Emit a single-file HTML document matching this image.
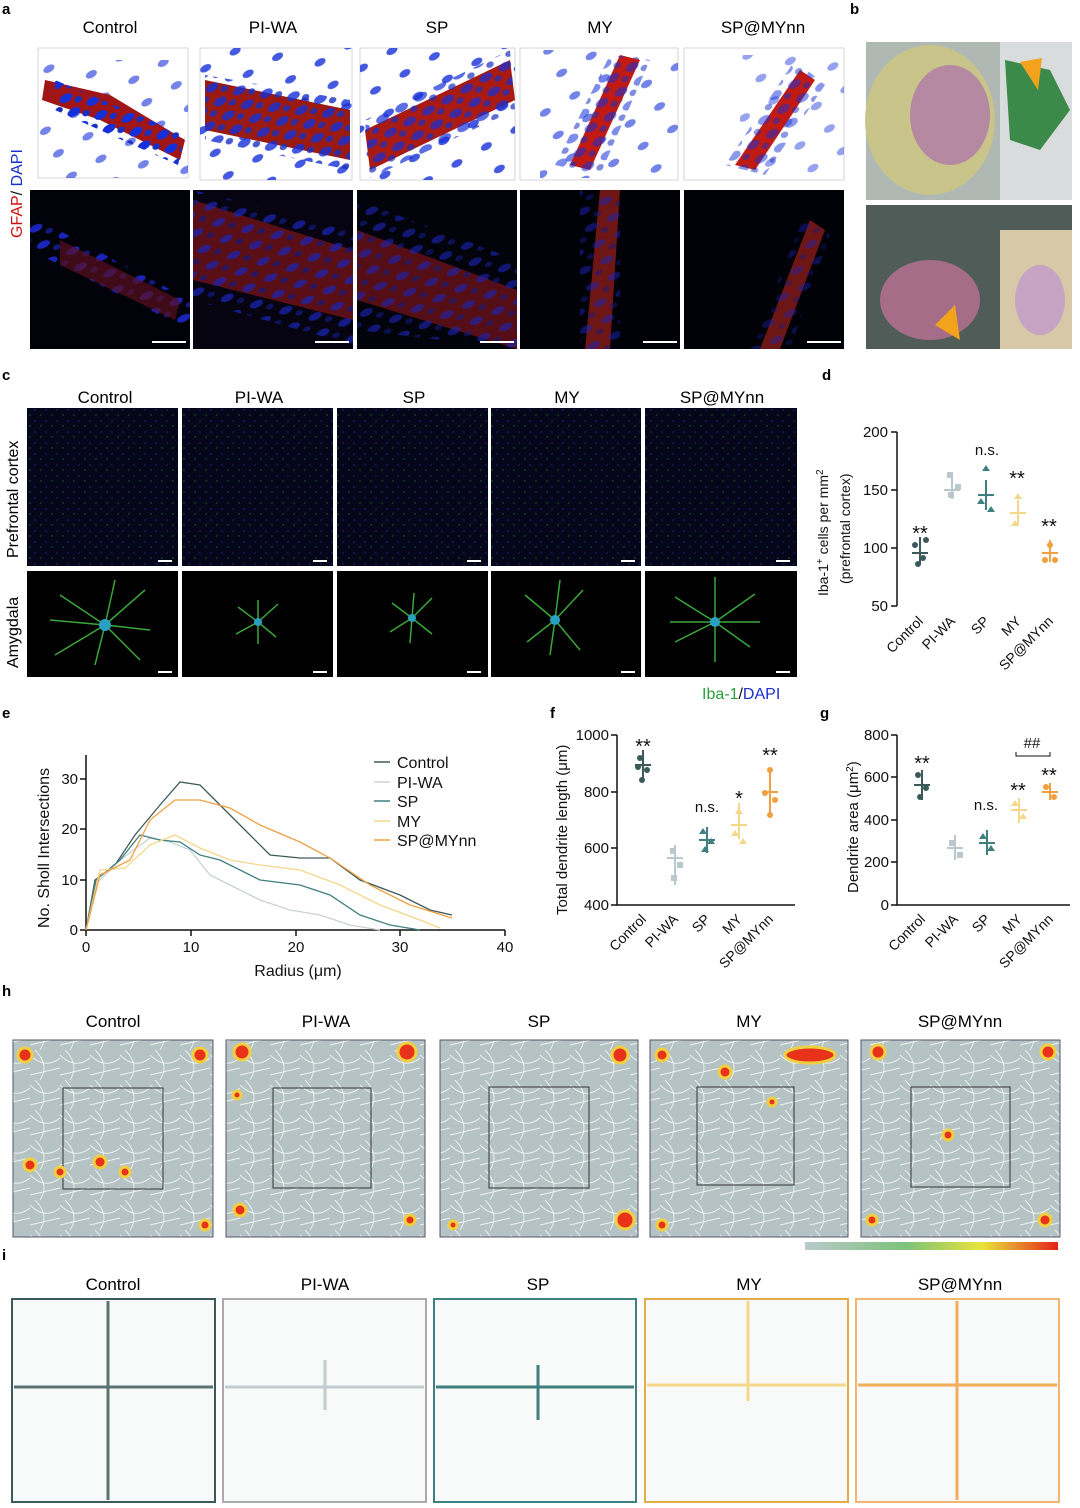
<!DOCTYPE html>
<html><head><meta charset="utf-8"><style>
html,body{margin:0;padding:0;background:#fff}
svg{display:block;font-family:"Liberation Sans",Arial,sans-serif}
</style></head><body>
<svg width="1080" height="1508" viewBox="0 0 1080 1508" xmlns="http://www.w3.org/2000/svg">
<defs>
<pattern id="nuc" width="22" height="16" patternUnits="userSpaceOnUse" patternTransform="rotate(-30)">
<ellipse cx="8" cy="6" rx="7" ry="4" fill="#1530d8"/><ellipse cx="18" cy="13" rx="4" ry="3" fill="#1a2fc0"/></pattern>
<pattern id="nucs" width="34" height="26" patternUnits="userSpaceOnUse" patternTransform="rotate(-30)">
<ellipse cx="8" cy="6" rx="6" ry="3.5" fill="#1530d8"/></pattern>
<pattern id="nucd" width="24" height="18" patternUnits="userSpaceOnUse" patternTransform="rotate(-25)">
<ellipse cx="8" cy="6" rx="7" ry="3.5" fill="#1a24b8"/><ellipse cx="19" cy="14" rx="4" ry="2.5" fill="#121a80"/></pattern>
<pattern id="spk" width="11" height="11" patternUnits="userSpaceOnUse">
<rect width="11" height="11" fill="#05061a"/><circle cx="2" cy="3" r="0.8" fill="#1e2680"/><circle cx="8" cy="8" r="0.7" fill="#1a6a30"/></pattern>
<pattern id="trk" width="30" height="30" patternUnits="userSpaceOnUse">
<rect width="30" height="30" fill="#b6c3c5"/><path d="M0 5 Q15 20 30 8 M5 0 Q20 15 10 30 M0 25 L30 18" stroke="#eef3f2" stroke-width="0.9" fill="none"/></pattern>
<linearGradient id="cb" x1="0" x2="1"><stop offset="0" stop-color="#b9c9cb"/><stop offset="0.4" stop-color="#7cc27a"/><stop offset="0.7" stop-color="#e9e43a"/><stop offset="1" stop-color="#e2231a"/></linearGradient>
</defs>

<g font-weight="bold" font-size="15">
<text x="2" y="14">a</text><text x="850" y="14">b</text><text x="2" y="380">c</text><text x="822" y="380">d</text>
<text x="2" y="718">e</text><text x="550" y="718">f</text><text x="820" y="718">g</text><text x="2" y="996">h</text><text x="2" y="1260">i</text></g>

<!-- a -->
<g font-size="17" text-anchor="middle"><text x="110" y="33">Control</text><text x="273" y="33">PI-WA</text><text x="437" y="33">SP</text><text x="600" y="33">MY</text><text x="763" y="33">SP@MYnn</text></g>
<text transform="translate(22,238) rotate(-90)" font-size="16"><tspan fill="#d01010">GFAP</tspan><tspan fill="#111">/ </tspan><tspan fill="#1a2fd0">DAPI</tspan></text>
<g stroke="#bbb" stroke-width="0.6" fill="#fff">
<rect x="38" y="48" width="150" height="130"/><rect x="200" y="48" width="152" height="132"/><rect x="360" y="48" width="155" height="132"/><rect x="520" y="48" width="158" height="132"/><rect x="684" y="48" width="160" height="132"/></g>
<g>
<path d="M38 60 L188 60 L188 178 L38 178Z" fill="url(#nucs)" opacity="0.6"/>
<path d="M45 80 L110 95 L185 140 L180 160 L100 120 L42 100Z" fill="#a01515"/><path d="M55 80 L185 135 L178 165 L55 110Z" fill="url(#nuc)"/>
<rect x="200" y="48" width="152" height="132" fill="url(#nucs)" opacity="0.8"/>
<path d="M205 80 L350 110 L350 160 L205 130Z" fill="#9a1a12"/><path d="M205 75 L350 100 L350 170 L205 140Z" fill="url(#nuc)" opacity="0.8"/>
<rect x="360" y="48" width="155" height="132" fill="url(#nucs)" opacity="0.8"/>
<path d="M365 130 L510 60 L515 100 L370 170Z" fill="#a81a12"/><path d="M365 120 L510 50 L515 110 L370 178Z" fill="url(#nuc)" opacity="0.7"/>
<rect x="540" y="50" width="138" height="128" fill="url(#nucs)" opacity="0.6"/>
<path d="M570 165 L620 55 L640 60 L590 170Z" fill="#c01a12"/><path d="M555 165 L610 55 L650 60 L600 175Z" fill="url(#nuc)" opacity="0.55"/>
<rect x="740" y="55" width="104" height="120" fill="url(#nucs)" opacity="0.45"/>
<path d="M735 165 L800 70 L815 80 L755 170Z" fill="#c01a12"/><path d="M725 165 L795 60 L825 85 L765 175Z" fill="url(#nuc)" opacity="0.5"/></g>
<g>
<rect x="30" y="190" width="160" height="159" fill="#02020a"/><rect x="193" y="190" width="160" height="159" fill="#050410"/><rect x="357" y="190" width="160" height="159" fill="#03030c"/><rect x="520" y="190" width="160" height="159" fill="#010108"/><rect x="684" y="190" width="160" height="159" fill="#010108"/>
<path d="M30 215 L190 300 L190 330 L30 250Z" fill="url(#nucd)"/><path d="M60 240 L180 300 L175 320 L60 265Z" fill="#5a1020" opacity="0.7"/>
<path d="M193 200 L353 250 L353 320 L193 280Z" fill="#6a1218" opacity="0.85"/><path d="M193 190 L353 230 L353 345 L193 300Z" fill="url(#nucd)" opacity="0.7"/>
<path d="M357 230 L517 290 L517 349 L357 300Z" fill="#6a1218" opacity="0.8"/><path d="M357 200 L517 260 L517 349 L357 330Z" fill="url(#nucd)" opacity="0.6"/>
<path d="M585 349 L600 190 L620 190 L610 349Z" fill="#8a1a1a" opacity="0.8"/><rect x="580" y="190" width="40" height="159" fill="url(#nucd)" opacity="0.5"/>
<path d="M760 349 L810 220 L825 230 L780 349Z" fill="#8a1a1a" opacity="0.8"/><path d="M750 349 L805 215 L830 235 L790 349Z" fill="url(#nucd)" opacity="0.4"/></g>
<g stroke="#fff" stroke-width="2"><path d="M152 342h34M315 342h34M480 342h34M643 342h34M807 342h34"/></g>

<!-- b -->
<rect x="866" y="42" width="206" height="158" fill="#b0b8b4"/><ellipse cx="930" cy="120" rx="65" ry="75" fill="#c9c48a"/><ellipse cx="950" cy="115" rx="40" ry="50" fill="#b07aa8" opacity="0.8"/><rect x="1000" y="42" width="72" height="158" fill="#d8dcdc"/><path d="M1005 60 L1050 70 L1070 110 L1040 150 L1010 140Z" fill="#3c8a4a"/>
<polygon points="1020,62 1042,58 1038,90" fill="#f3a21b"/>
<rect x="866" y="205" width="206" height="144" fill="#4f5c58"/><ellipse cx="930" cy="300" rx="50" ry="40" fill="#a66d88"/><rect x="1000" y="230" width="72" height="119" fill="#d7c9a8"/><ellipse cx="1040" cy="300" rx="25" ry="35" fill="#c6a4c4"/><polygon points="935,325 955,305 960,340" fill="#f3a21b"/>

<!-- c -->
<g font-size="17" text-anchor="middle"><text x="105" y="403">Control</text><text x="259" y="403">PI-WA</text><text x="414" y="403">SP</text><text x="567" y="403">MY</text><text x="722" y="403">SP@MYnn</text></g>
<text transform="translate(18,558) rotate(-90)" font-size="16">Prefrontal cortex</text>
<text transform="translate(18,668) rotate(-90)" font-size="16">Amygdala</text>
<g fill="url(#spk)"><rect x="27" y="408" width="151" height="158"/><rect x="182" y="408" width="151" height="158"/><rect x="337" y="408" width="151" height="158"/><rect x="491" y="408" width="150" height="158"/><rect x="645" y="408" width="152" height="158"/></g>
<g fill="#000"><rect x="27" y="571" width="151" height="106"/><rect x="182" y="571" width="151" height="106"/><rect x="337" y="571" width="151" height="106"/><rect x="491" y="571" width="150" height="106"/><rect x="645" y="571" width="152" height="106"/></g>
<g stroke="#3aa83a" stroke-width="1.5" fill="none">
<path d="M105 625 l-45 -30 M105 625 l40 -35 M105 625 l-50 30 M105 625 l35 35 M105 625 l-10 40 M105 625 l10 -45 M105 625 l45 5 M105 625 l-55 -5"/>
<path d="M258 622 l-20 -15 M258 622 l20 -18 M258 622 l-22 12 M258 622 l18 15 M258 622 l0 -22 M258 622 l0 22"/>
<path d="M412 618 l-20 -15 M412 618 l20 -20 M412 618 l-22 14 M412 618 l20 16 M412 618 l2 -25 M412 618 l-2 25"/>
<path d="M555 620 l-30 -25 M555 620 l28 -30 M555 620 l-28 22 M555 620 l25 30 M555 620 l5 -40 M555 620 l-5 35"/>
<path d="M715 622 l-40 -25 M715 622 l40 -28 M715 622 l-40 20 M715 622 l35 25 M715 622 l0 -45 M715 622 l0 40 M715 622 l45 0 M715 622 l-45 0"/></g>
<g fill="#2aa0c0"><circle cx="105" cy="625" r="6"/><circle cx="258" cy="622" r="4"/><circle cx="412" cy="618" r="4"/><circle cx="555" cy="620" r="5"/><circle cx="715" cy="622" r="5"/></g>
<g stroke="#fff" stroke-width="2"><path d="M158 561h14M313 561h14M467 561h14M621 561h14M776 561h14M158 672h14M313 672h14M467 672h14M621 672h14M776 672h14"/></g>
<text x="702" y="699" font-size="16"><tspan fill="#2aa03a">Iba-1</tspan><tspan fill="#111">/</tspan><tspan fill="#1a2fd0">DAPI</tspan></text>

<!-- d -->
<g font-size="15" fill="#111">
<path d="M897 432 V606" stroke="#111" stroke-width="1.5"/>
<g stroke="#111" stroke-width="1.5"><path d="M891 432h6M891 490h6M891 548h6M891 606h6"/></g>
<g text-anchor="end"><text x="888" y="437">200</text><text x="888" y="495">150</text><text x="888" y="553">100</text><text x="888" y="611">50</text></g>
<text transform="translate(828,596) rotate(-90)" font-size="14">Iba-1<tspan baseline-shift="super" font-size="10">+</tspan> cells per mm<tspan baseline-shift="super" font-size="10">2</tspan></text>
<text transform="translate(850,584) rotate(-90)" font-size="14">(prefrontal cortex)</text>
<g text-anchor="end" font-size="14"><text transform="translate(924,622) rotate(-45)">Control</text><text transform="translate(956,622) rotate(-45)">PI-WA</text><text transform="translate(990,622) rotate(-45)">SP</text><text transform="translate(1022,622) rotate(-45)">MY</text><text transform="translate(1054,622) rotate(-45)">SP@MYnn</text></g>
<g stroke-width="2"><path d="M920 537v28M912 553h16" stroke="#3d5a5a"/><path d="M952 477v22M944 490h16" stroke="#b8c8cc"/><path d="M986 480v30M978 495h16" stroke="#3f7f80"/><path d="M1018 500v25M1010 513h16" stroke="#f5d78a"/><path d="M1050 540v22M1042 553h16" stroke="#f0a040"/></g>
<g fill="#3d5a5a"><circle cx="915" cy="545" r="3"/><circle cx="923" cy="558" r="3"/><circle cx="918" cy="564" r="3"/><circle cx="926" cy="540" r="3"/></g>
<g fill="#b8c8cc"><rect x="947" y="472" width="6" height="6"/><rect x="955" y="484" width="6" height="6"/><rect x="948" y="492" width="6" height="6"/></g>
<g fill="#3f7f80"><path d="M986 465l4 6h-8z"/><path d="M981 498l4 6h-8z"/><path d="M991 506l4 6h-8z"/></g>
<g fill="#f5d78a"><path d="M1018 493l4 6h-8z"/><path d="M1015 520l4 6h-8z"/></g>
<g fill="#f0a040"><circle cx="1050" cy="545" r="3"/><circle cx="1045" cy="560" r="3"/><circle cx="1055" cy="560" r="3"/></g>
<g font-size="20" text-anchor="middle"><text x="920" y="540">**</text><text x="1017" y="485">**</text><text x="1049" y="533">**</text></g>
<text x="987" y="455" text-anchor="middle" font-size="15">n.s.</text>
</g>

<!-- e -->
<g font-size="15" fill="#111">
<path d="M86 755 V930 H505" stroke="#111" stroke-width="1.5" fill="none"/>
<g stroke="#111" stroke-width="1.5"><path d="M80 930h6M80 880h6M80 829h6M80 779h6M86 930v6M191 930v6M296 930v6M400 930v6M505 930v6"/></g>
<g text-anchor="end"><text x="78" y="935">0</text><text x="78" y="885">10</text><text x="78" y="834">20</text><text x="78" y="784">30</text></g>
<g text-anchor="middle"><text x="86" y="952">0</text><text x="191" y="952">10</text><text x="296" y="952">20</text><text x="400" y="952">30</text><text x="505" y="952">40</text></g>
<text x="298" y="976" text-anchor="middle" font-size="16">Radius (μm)</text>
<text transform="translate(49,928) rotate(-90)" font-size="16">No. Sholl Intersections</text>
<g fill="none" stroke-width="1.3">
<path d="M86 930 L95 880 L115 865 L135 835 L160 805 L180 782 L200 785 L220 805 L245 830 L270 855 L300 858 L330 858 L360 880 L400 895 L430 910 L452 915" stroke="#3d5a5a"/>
<path d="M86 930 L95 885 L120 860 L150 838 L170 842 L190 850 L210 875 L230 885 L260 900 L290 910 L320 915 L350 925 L380 930" stroke="#c8d3d6"/>
<path d="M86 930 L96 880 L120 860 L140 835 L160 840 L180 842 L200 855 L220 860 L260 880 L300 885 L330 895 L360 915 L390 925 L420 930" stroke="#3f7f80"/>
<path d="M86 930 L100 870 L125 868 L150 845 L175 835 L200 848 L230 860 L260 865 L300 870 L340 885 L380 905 L420 920 L440 928" stroke="#f5d78a"/>
<path d="M86 930 L100 875 L130 860 L150 820 L175 800 L200 800 L230 808 L260 825 L300 842 L330 858 L370 885 L410 905 L452 918" stroke="#f0a040"/></g>
<g font-size="16"><text x="397" y="768">Control</text><text x="397" y="788">PI-WA</text><text x="397" y="807">SP</text><text x="397" y="827">MY</text><text x="397" y="846">SP@MYnn</text></g>
<g stroke-width="1.5"><path d="M374 762h16" stroke="#3d5a5a"/><path d="M374 782h16" stroke="#c8d3d6"/><path d="M374 801h16" stroke="#3f7f80"/><path d="M374 821h16" stroke="#f5d78a"/><path d="M374 840h16" stroke="#f0a040"/></g>
</g>

<!-- f -->
<g font-size="15" fill="#111">
<path d="M617 735 V905 H795" stroke="#111" stroke-width="1.5" fill="none"/>
<g stroke="#111" stroke-width="1.5"><path d="M611 735h6M611 792h6M611 848h6M611 905h6"/></g>
<g text-anchor="end"><text x="609" y="740">1000</text><text x="609" y="797">800</text><text x="609" y="853">600</text><text x="609" y="910">400</text></g>
<text transform="translate(567,915) rotate(-90)" font-size="15">Total dendrite length (μm)</text>
<g text-anchor="end" font-size="14"><text transform="translate(647,920) rotate(-45)">Control</text><text transform="translate(679,920) rotate(-45)">PI-WA</text><text transform="translate(711,920) rotate(-45)">SP</text><text transform="translate(743,920) rotate(-45)">MY</text><text transform="translate(774,920) rotate(-45)">SP@MYnn</text></g>
<g stroke-width="2"><path d="M643 750v30M635 765h16" stroke="#3d5a5a"/><path d="M675 845v40M667 858h16" stroke="#b8c8cc"/><path d="M707 827v26M699 840h16" stroke="#3f7f80"/><path d="M739 803v36M731 825h16" stroke="#f5d78a"/><path d="M770 768v50M762 792h16" stroke="#f0a040"/></g>
<g fill="#3d5a5a"><circle cx="640" cy="758" r="3"/><circle cx="647" cy="770" r="3"/><circle cx="642" cy="780" r="3"/><circle cx="638" cy="767" r="3"/></g>
<g fill="#b8c8cc"><rect x="670" y="848" width="6" height="6"/><rect x="677" y="862" width="6" height="6"/><rect x="671" y="875" width="6" height="6"/></g>
<g fill="#3f7f80"><path d="M703 828l4 6h-8z"/><path d="M711 838l4 6h-8z"/><path d="M705 846l4 6h-8z"/></g>
<g fill="#f5d78a"><path d="M739 808l4 6h-8z"/><path d="M735 830l4 6h-8z"/><path d="M743 838l4 6h-8z"/></g>
<g fill="#f0a040"><circle cx="770" cy="770" r="3"/><circle cx="765" cy="793" r="3"/><circle cx="775" cy="800" r="3"/><circle cx="770" cy="815" r="3"/></g>
<g font-size="20" text-anchor="middle"><text x="643" y="753">**</text><text x="739" y="805">*</text><text x="770" y="762">**</text></g>
<text x="707" y="812" text-anchor="middle">n.s.</text>
</g>

<!-- g -->
<g font-size="15" fill="#111">
<path d="M897 735 V905 H1070" stroke="#111" stroke-width="1.5" fill="none"/>
<g stroke="#111" stroke-width="1.5"><path d="M891 735h6M891 777h6M891 820h6M891 862h6M891 905h6"/></g>
<g text-anchor="end"><text x="889" y="740">800</text><text x="889" y="782">600</text><text x="889" y="825">400</text><text x="889" y="867">200</text><text x="889" y="910">0</text></g>
<text transform="translate(858,893) rotate(-90)" font-size="15">Dendrite area (μm<tspan baseline-shift="super" font-size="10">2</tspan>)</text>
<g text-anchor="end" font-size="14"><text transform="translate(926,920) rotate(-45)">Control</text><text transform="translate(959,920) rotate(-45)">PI-WA</text><text transform="translate(991,920) rotate(-45)">SP</text><text transform="translate(1023,920) rotate(-45)">MY</text><text transform="translate(1054,920) rotate(-45)">SP@MYnn</text></g>
<g stroke-width="2"><path d="M922 770v30M914 785h16" stroke="#3d5a5a"/><path d="M955 835v25M947 848h16" stroke="#b8c8cc"/><path d="M987 830v25M979 843h16" stroke="#3f7f80"/><path d="M1019 798v25M1011 810h16" stroke="#f5d78a"/><path d="M1050 783v17M1042 792h16" stroke="#f0a040"/></g>
<g fill="#3d5a5a"><circle cx="918" cy="775" r="3"/><circle cx="926" cy="788" r="3"/><circle cx="920" cy="797" r="3"/></g>
<g fill="#b8c8cc"><rect x="949" y="840" width="6" height="6"/><rect x="957" y="852" width="6" height="6"/></g>
<g fill="#3f7f80"><path d="M983 833l4 6h-8z"/><path d="M991 845l4 6h-8z"/></g>
<g fill="#f5d78a"><path d="M1015 800l4 6h-8z"/><path d="M1023 813l4 6h-8z"/></g>
<g fill="#f0a040"><circle cx="1046" cy="787" r="3"/><circle cx="1054" cy="797" r="3"/></g>
<path d="M1016 752v4h34v-4" stroke="#111" fill="none"/>
<g font-size="20" text-anchor="middle"><text x="922" y="770">**</text><text x="1018" y="797">**</text><text x="1049" y="782">**</text></g>
<text x="1032" y="748" text-anchor="middle">##</text><text x="986" y="810" text-anchor="middle">n.s.</text>
</g>

<!-- h -->
<g font-size="17" text-anchor="middle"><text x="113" y="1027">Control</text><text x="326" y="1027">PI-WA</text><text x="539" y="1027">SP</text><text x="749" y="1027">MY</text><text x="960" y="1027">SP@MYnn</text></g>
<g fill="url(#trk)" stroke="#556" stroke-width="1"><rect x="13" y="1040" width="200" height="197"/><rect x="226" y="1040" width="199" height="197"/><rect x="440" y="1040" width="198" height="197"/><rect x="650" y="1040" width="198" height="197"/><rect x="861" y="1040" width="199" height="197"/></g>
<g fill="none" stroke="#333" stroke-width="1"><rect x="63" y="1088" width="100" height="101"/><rect x="273" y="1088" width="98" height="100"/><rect x="489" y="1087" width="100" height="101"/><rect x="697" y="1087" width="97" height="98"/><rect x="911" y="1087" width="99" height="100"/></g>
<g fill="#e8321a" stroke="#f0d040" stroke-width="3">
<circle cx="25" cy="1055" r="7"/><circle cx="200" cy="1055" r="7"/><circle cx="60" cy="1172" r="5"/><circle cx="100" cy="1162" r="6"/><circle cx="125" cy="1172" r="5"/><circle cx="30" cy="1165" r="6"/><circle cx="205" cy="1225" r="5"/>
<circle cx="242" cy="1052" r="8"/><circle cx="407" cy="1052" r="9"/><circle cx="240" cy="1210" r="6"/><circle cx="410" cy="1220" r="5"/><circle cx="237" cy="1095" r="4"/>
<circle cx="620" cy="1055" r="8"/><circle cx="625" cy="1220" r="9"/><circle cx="453" cy="1225" r="4"/>
<circle cx="662" cy="1055" r="6"/><circle cx="725" cy="1072" r="6"/><ellipse cx="810" cy="1055" rx="25" ry="8"/><circle cx="772" cy="1102" r="4"/><circle cx="662" cy="1225" r="5"/>
<circle cx="878" cy="1052" r="7"/><circle cx="1048" cy="1052" r="7"/><circle cx="948" cy="1135" r="5"/><circle cx="1045" cy="1220" r="6"/><circle cx="872" cy="1220" r="5"/></g>
<rect x="805" y="1242" width="253" height="8" fill="url(#cb)"/>

<!-- i -->
<g font-size="17" text-anchor="middle"><text x="113" y="1290">Control</text><text x="325" y="1290">PI-WA</text><text x="538" y="1290">SP</text><text x="749" y="1290">MY</text><text x="960" y="1290">SP@MYnn</text></g>
<g fill="#f8f9f9" stroke-width="2"><rect x="12" y="1299" width="203" height="203" stroke="#3d5a5a"/><rect x="223" y="1299" width="203" height="203" stroke="#aaa"/><rect x="434" y="1299" width="202" height="203" stroke="#3f8080"/><rect x="645" y="1299" width="203" height="203" stroke="#e0ad48"/><rect x="856" y="1299" width="203" height="203" stroke="#f2b66e"/></g>
<g stroke-width="3" fill="none">
<path d="M14 1387h199M108 1301v199" stroke="#3d5a5a" opacity="0.85"/>
<path d="M225 1387h199M325 1360v50" stroke="#c1ccd0"/>
<path d="M436 1387h198M538 1365v55" stroke="#3f7f80"/>
<path d="M647 1385h199M748 1301v100" stroke="#f5d78a"/>
<path d="M858 1385h199M957 1301v199" stroke="#f0a040" opacity="0.85"/></g>
</svg>
</body></html>
